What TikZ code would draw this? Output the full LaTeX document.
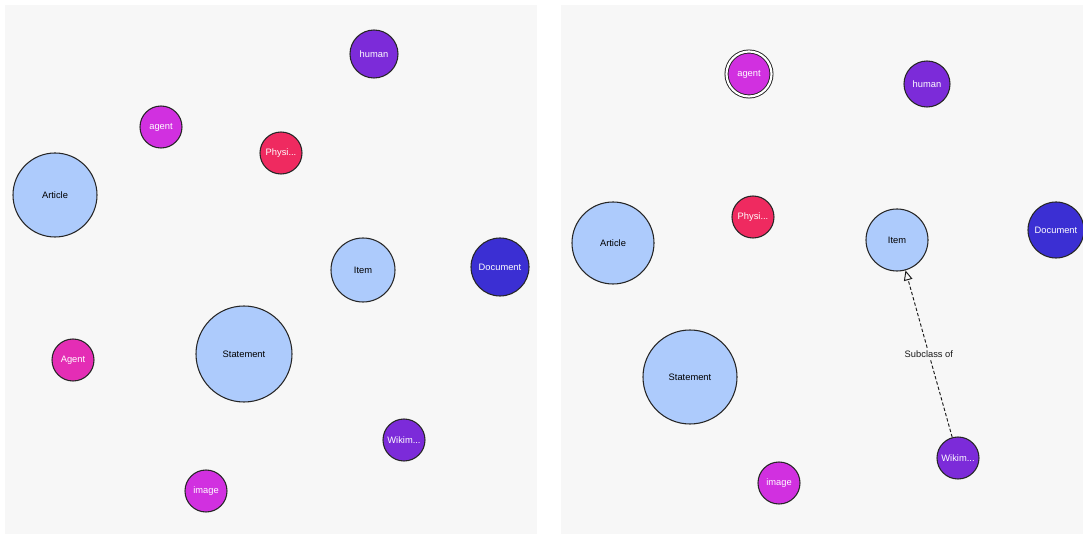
\documentclass[tikz,border=0pt]{standalone}
\usepackage{fontspec}
\setmainfont{Liberation Sans}
\usetikzlibrary{arrows.meta}
\definecolor{panelgray}{HTML}{F7F7F7}
\definecolor{clsblue}{HTML}{ADCBFC}
\definecolor{clspurple}{HTML}{7C2BD9}
\definecolor{clsmagenta}{HTML}{D130E0}
\definecolor{clsred}{HTML}{EF2A60}
\definecolor{clspink}{HTML}{E42DB5}
\definecolor{clsindigo}{HTML}{3B2FD3}
\tikzset{
  panel/.style = {fill=panelgray, draw=none},
  cls/.style   = {circle, draw=black!85, line width=0.8pt, inner sep=0pt,
                  font=\fontsize{7}{8}\selectfont},
  rad/.style   = {minimum size=1.5pt*#1},
  light/.style = {cls, fill=clsblue, text=black},
  dark/.style  = {cls, fill=#1, text=white},
  picked/.style= {double=white, double distance=1.6pt, line width=0.7pt},
  subcls/.style= {-{Triangle[open, length=7.5pt, width=6.5pt]}, dashed,
                  dash pattern=on 2.5pt off 1.6pt, line width=0.7pt, black!90},
  lbl/.style   = {fill=panelgray, inner sep=1.5pt, font=\fontsize{7}{8}\selectfont}
}

\begin{document}
\begin{tikzpicture}[x=0.75pt, y=-0.75pt]
  \useasboundingbox (0,0) rectangle (1083,534);
  \fill[panel] (5,5) rectangle (537,534);
  \fill[panel] (561,5) rectangle (1083,534);

  % left view
  \node[dark=clspurple, rad=24]  (humanA)    at (374,54)  {human};
  \node[dark=clsmagenta, rad=21] (agentA)    at (161,127) {agent};
  \node[dark=clsred, rad=21]     (physA)     at (281,153) {Physi...};
  \node[light, rad=42]           (articleA)  at (55,195)  {Article};
  \node[light, rad=32]           (itemA)     at (363,270) {Item};
  \node[dark=clsindigo, rad=29]  (docA)      at (500,267) {Document};
  \node[dark=clspink, rad=21]    (AgentA)    at (73,360)  {Agent};
  \node[light, rad=48]           (stmtA)     at (244,354) {Statement};
  \node[dark=clspurple, rad=21]  (wikiA)     at (404,440) {Wikim...};
  \node[dark=clsmagenta, rad=21] (imageA)    at (206,491) {image};

  % right view
  \node[dark=clsmagenta, rad=22.5, picked] (agentB) at (749,74) {agent};
  \node[dark=clspurple, rad=23]  (humanB)    at (927,84)  {human};
  \node[dark=clsred, rad=21]     (physB)     at (753,217) {Physi...};
  \node[light, rad=41]           (articleB)  at (613,243) {Article};
  \node[light, rad=31]           (itemB)     at (897,240) {Item};
  \node[dark=clsindigo, rad=28]  (docB)      at (1056,230) {Document};
  \node[light, rad=47]           (stmtB)     at (690,377) {Statement};
  \node[dark=clsmagenta, rad=21] (imageB)    at (779,483) {image};
  \node[dark=clspurple, rad=21]  (wikiB)     at (958,458) {Wikim...};

  \draw[subcls] (wikiB) -- node[lbl] {Subclass of} (itemB);
\end{tikzpicture}
\end{document}
